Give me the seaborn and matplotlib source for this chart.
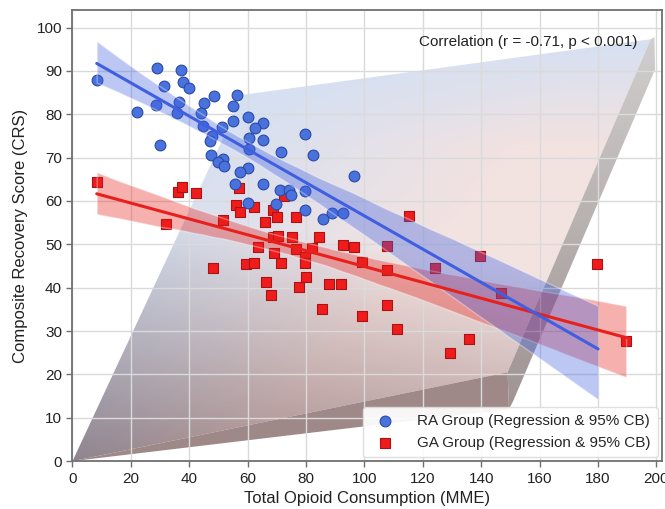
import numpy as np
import pandas as pd
import matplotlib
matplotlib.use('Agg')
import matplotlib.pyplot as plt
from matplotlib.patches import Polygon
import seaborn as sns

# RA group (circles)
ra_mme = [8.3, 29.1, 37.2, 31.2, 37.9, 40.0, 22.2, 28.7, 36.4, 35.9, 29.8, 45.0, 48.4,
          56.3, 54.8, 43.9, 54.8, 60.0, 65.4, 62.5, 44.6, 51.1, 47.7, 47.0, 60.6, 65.4,
          60.5, 79.7, 47.5, 71.3, 82.2, 51.7, 50.0, 52.0, 60.0, 57.2, 96.5, 55.6, 65.4,
          70.9, 74.3, 74.7, 79.6, 60.0, 69.6, 79.7, 88.8, 92.5, 85.7]
ra_crs = [87.8, 90.6, 90.1, 86.6, 87.5, 86.1, 80.5, 82.2, 82.8, 80.3, 72.8, 82.7, 84.1,
          84.5, 82.0, 80.2, 78.4, 79.3, 78.0, 76.9, 77.2, 77.0, 75.0, 73.8, 74.6, 74.0,
          72.0, 75.5, 70.7, 71.3, 70.6, 69.7, 69.0, 68.0, 67.6, 66.7, 65.8, 64.0, 63.9,
          62.5, 62.5, 61.3, 62.4, 59.6, 59.2, 57.9, 57.3, 57.3, 55.9]

# GA group (squares)
ga_mme = [8.3, 31.9, 36.3, 37.5, 42.2, 56.9, 55.9, 57.4, 62.1, 51.4, 68.6, 72.4, 70.0,
          76.5, 65.9, 63.7, 68.6, 70.4, 75.3, 84.4, 76.5, 69.0, 81.9, 79.7, 79.7, 71.3,
          59.4, 62.3, 48.0, 79.8, 66.3, 77.7, 68.0, 88.0, 91.9, 92.7, 96.5, 85.4, 99.2,
          99.2, 107.6, 107.7, 107.6, 111.3, 115.3, 139.5, 124.2, 146.6, 135.7, 129.4,
          179.6, 189.6]
ga_crs = [64.4, 54.6, 62.1, 63.2, 61.9, 62.9, 59.1, 57.5, 58.5, 55.5, 57.9, 61.1, 56.3,
          56.3, 55.1, 49.4, 51.7, 51.9, 51.7, 51.7, 48.9, 48.0, 49.1, 47.0, 45.8, 45.8,
          45.4, 45.7, 44.6, 42.5, 41.3, 40.2, 38.3, 40.8, 40.8, 49.9, 49.4, 35.2, 33.4,
          46.0, 49.7, 44.1, 36.1, 30.4, 56.5, 47.2, 44.5, 38.8, 28.1, 24.9,
          45.4, 27.7]

ra_label = 'RA Group (Regression & 95% CB)'
ga_label = 'GA Group (Regression & 95% CB)'
ra_fit_max = 180
x_ticks = list(range(0, 201, 20))
y_ticks = list(range(0, 101, 10))

ra_df = pd.DataFrame({'mme': ra_mme, 'crs': ra_crs})
ga_df = pd.DataFrame({'mme': ga_mme, 'crs': ga_crs})

sns.set_theme(style='whitegrid')
plt.rcParams['font.family'] = ['Liberation Sans', 'DejaVu Sans']
plt.rcParams['axes.edgecolor'] = '#707070'
plt.rcParams['grid.color'] = '#dadada'

fig = plt.figure(figsize=(6.65, 5.09), dpi=100)
ax = fig.add_axes([0.109, 0.094, 0.887, 0.886])

# decorative 3d-ish backdrop
front = Polygon([(0, 0), (58.5, 84.5), (198, 97.3), (149, 20.5)], closed=True,
                transform=ax.transData, facecolor='none', edgecolor='none')
gx, gy = np.meshgrid(np.linspace(0, 1, 400), np.linspace(0, 1, 200))
hue = np.clip(1.8 * gx - 1.2 * gy + 0.5, 0, 1) * np.clip((0.98 - gy) / 0.25, 0, 1)
hue = hue[..., None]
light = np.clip((0.2 * gx + 0.8 * gy) / 0.5, 0, 1)[..., None]
dark_c = (1 - hue) * np.array([112, 120, 142]) + hue * np.array([150, 118, 118])
light_c = (1 - hue) * np.array([208, 221, 242]) + hue * np.array([241, 223, 221])
rgb = ((1 - light) * dark_c + light * light_c) / 255
im = ax.imshow(rgb, origin='lower', extent=(0, 200, 0, 100), aspect='auto',
               zorder=0.3, alpha=0.9, interpolation='bilinear')
im.set_clip_path(front)

ax.add_patch(Polygon([(0, 0), (149, 20.5), (149.5, 12)], closed=True,
                     facecolor='#957b7b', edgecolor='none', alpha=0.9, zorder=0.35))

strip = Polygon([(149, 20.5), (198, 97.3), (199.3, 97.8), (199.5, 90.3),
                 (151, 14), (149.5, 12)], closed=True,
                transform=ax.transData, facecolor='none', edgecolor='none')
sv = np.clip(gy, 0, 1)[..., None]
strip_rgb = ((1 - sv) * np.array([140, 126, 124]) + sv * np.array([205, 203, 203])) / 255
im2 = ax.imshow(strip_rgb, origin='lower', extent=(0, 200, 0, 100), aspect='auto',
                zorder=0.35, alpha=0.9, interpolation='bilinear')
im2.set_clip_path(strip)

sns.scatterplot(data=ga_df, x='mme', y='crs', marker='s', color='#f01c1c', s=56,
                edgecolor='#a81414', linewidth=0.8, zorder=3, label=ga_label, ax=ax)
sns.scatterplot(data=ra_df, x='mme', y='crs', marker='o', color='#4a72dc', s=60,
                edgecolor='#2a48a8', linewidth=0.8, zorder=3, label=ra_label, ax=ax)

sns.regplot(data=ga_df, x='mme', y='crs', scatter=False, ci=95, seed=3,
            color='#e8201c', line_kws={'linewidth': 2.2, 'zorder': 4}, ax=ax)
ax.collections[-1].set_alpha(0.35)
ax.collections[-1].set_zorder(3.5)

ax.set_xlim(min(ra_mme), ra_fit_max)
sns.regplot(data=ra_df, x='mme', y='crs', scatter=False, ci=95, seed=3, truncate=False,
            color='#3f5fe0', line_kws={'linewidth': 2.2, 'zorder': 4}, ax=ax)
ax.collections[-1].set_alpha(0.35)
ax.collections[-1].set_zorder(3.6)

ax.set_xlim(0, 202)
ax.set_ylim(0, 104)
ax.set_xticks(x_ticks)
ax.set_yticks(y_ticks)
ax.tick_params(axis='both', labelsize=11, labelcolor='#222222', color='#707070',
               length=4, width=1, bottom=True, left=True)
for sp in ax.spines.values():
    sp.set_linewidth(1.3)
ax.set_xlabel('Total Opioid Consumption (MME)', fontsize=12, color='#222222', labelpad=4)
ax.set_ylabel('Composite Recovery Score (CRS)', fontsize=12, color='#222222', labelpad=6)

ax.text(0.957, 0.93, 'Correlation (r = -0.71, p < 0.001)', transform=ax.transAxes,
        ha='right', va='center', fontsize=11, color='#222222', zorder=6)

handles, labels = ax.get_legend_handles_labels()
order = [labels.index(ra_label), labels.index(ga_label)]
leg = ax.legend([handles[i] for i in order], [labels[i] for i in order],
                loc='lower right', fontsize=11, frameon=True, framealpha=0.92,
                edgecolor='#dddddd', borderpad=0.45, handletextpad=1.1,
                borderaxespad=0.3)
leg.set_zorder(7)

fig.savefig('out.png', dpi=100)
